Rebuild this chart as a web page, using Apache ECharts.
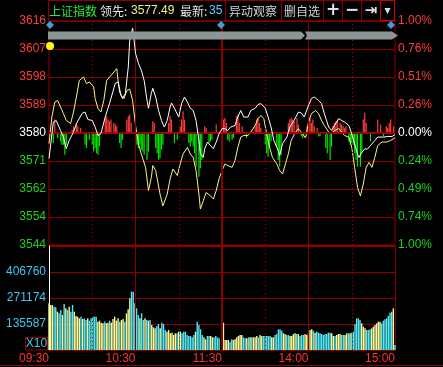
<!DOCTYPE html>
<html><head><meta charset="utf-8">
<script src="https://cdn.jsdelivr.net/npm/echarts@6/dist/echarts.min.js"></script>
<style>html,body{margin:0;padding:0;background:#000}#c{width:443px;height:367px}</style>
</head><body><div id="c"></div>
<script>
// ---------- data ----------
const prevClose = 3580.4;
const priceLabels = ['3616','3607','3598','3589','3580','3571','3562','3554','3544'];
const pctLabels = ['1.00%','0.76%','0.51%','0.26%','0.00%','0.24%','0.49%','0.74%','1.00%'];
const volStep = 135587;
const volLabels = ['', '135587', '271174', '406760', ''];
const timeLabels = {0:'09:30', 60:'10:30', 120:'11:30', 180:'14:00', 240:'15:00'};
const solidTimes = [60, 120, 180];
const dottedTimes = [30, 90, 150, 210];

const whiteT = [0,3,5,8,10,12,14,17,19,23,25,27,30,32,34,36,39,42,46,48,49,51,53,55,56,58,59,60,62,64,66,68,69,71,72,74,76,78,80,82,84,85,87,90,92,94,96,98,100,102,104,105,107,108,110,112,114,116,118,120,122,124,126,129,131,133,135,138,140,143,145,147,150,152,154,156,159,160,162,165,167,170,173,175,177,180,182,184,187,189,191,194,196,198,201,203,205,208,210,212,214,215,217,219,221,223,226,228,232,235,238,240];
const whiteP = [3572.2,3583.9,3584.4,3581.2,3579.1,3575.4,3578.0,3580.7,3583.4,3586.7,3587.1,3584.7,3584.4,3582.3,3579.6,3580.2,3585.5,3589.9,3596.3,3596.7,3593.5,3591.4,3593.1,3601.5,3610.1,3613.9,3610.1,3605.9,3602.7,3600.5,3597.2,3590.8,3588.3,3593.1,3594.7,3591.9,3587.6,3584.4,3582.3,3584.4,3588.7,3590.0,3588.3,3585.5,3589.9,3591.9,3590.3,3588.3,3587.6,3584.4,3578.0,3573.8,3572.6,3575.4,3577.5,3576.4,3575.4,3577.5,3580.2,3581.8,3581.8,3581.2,3582.3,3582.8,3585.5,3587.6,3585.5,3585.5,3587.6,3588.3,3589.5,3589.8,3588.3,3585.5,3582.3,3578.0,3574.8,3573.2,3577.0,3579.1,3582.3,3584.4,3587.1,3586.8,3585.5,3589.2,3591.4,3591.9,3590.8,3589.8,3586.6,3582.3,3581.2,3582.8,3585.0,3584.4,3583.9,3582.8,3580.1,3576.9,3573.7,3572.6,3574.2,3575.3,3575.3,3576.4,3578.0,3579.1,3579.1,3579.3,3579.3,3579.9];

const yellowT = [0,2,4,6,8,10,12,15,17,19,21,24,26,28,31,32,34,36,38,40,42,45,47,48,50,52,54,56,58,60,62,64,67,69,71,72,74,77,79,82,84,86,89,91,93,96,98,100,102,104,105,107,109,112,114,116,118,120,121,122,124,127,129,131,133,135,138,140,143,145,147,149,151,153,155,158,160,162,164,166,168,171,173,175,178,180,182,185,187,189,191,194,196,198,201,203,205,208,210,212,214,216,218,220,222,224,226,228,231,234,237,240];
const yellowP = [3577.0,3585.5,3590.3,3590.8,3588.7,3586.6,3584.4,3583.4,3587.1,3591.9,3597.2,3598.3,3596.2,3596.7,3595.1,3591.4,3588.2,3587.1,3590.8,3597.2,3598.3,3599.9,3601.0,3596.7,3592.4,3591.4,3594.0,3594.4,3590.8,3582.8,3577.0,3573.7,3569.4,3562.0,3566.2,3570.0,3568.4,3560.9,3557.1,3560.9,3565.7,3568.9,3566.8,3570.5,3573.7,3575.8,3573.7,3572.6,3568.4,3560.9,3556.1,3558.7,3561.4,3560.3,3559.3,3562.0,3565.8,3568.4,3569.4,3570.5,3570.0,3569.4,3571.6,3575.8,3579.1,3579.6,3579.6,3580.7,3582.8,3585.0,3586.0,3585.0,3580.1,3575.8,3572.6,3570.5,3568.4,3567.3,3570.5,3573.7,3578.0,3580.7,3581.8,3580.7,3578.8,3583.9,3586.6,3587.6,3586.6,3584.4,3582.8,3580.7,3580.1,3581.2,3581.8,3580.7,3579.6,3579.1,3575.8,3569.4,3563.0,3560.3,3564.1,3569.4,3571.0,3569.4,3572.6,3576.4,3577.5,3577.5,3578.0,3578.9];

// up/down breadth bars: [minute, size in % units]
const redBars = [[4,0.12],[16,0.03],[17,0.06],[19,0.09],[20,0.06],[22,0.045],[39,0.135],[40,0.15],[41,0.12],[42,0.105],[43,0.12],[45,0.09],[46,0.075],[47,0.06],[54,0.12],[55,0.15],[56,0.165],[57,0.09],[72,0.105],[73,0.09],[83,0.09],[84,0.15],[85,0.12],[91,0.06],[92,0.12],[93,0.195],[94,0.12],[108,0.06],[109,0.045],[116,0.075],[121,0.12],[122,0.135],[123,0.09],[130,0.15],[131,0.165],[132,0.09],[134,0.06],[143,0.06],[144,0.12],[145,0.135],[146,0.09],[147,0.045],[166,0.09],[167,0.12],[168,0.135],[169,0.12],[170,0.105],[172,0.135],[173,0.075],[179,0.06],[180,0.12],[181,0.135],[182,0.09],[183,0.12],[184,0.06],[186,0.045],[197,0.06],[198,0.09],[199,0.105],[200,0.12],[202,0.09],[203,0.075],[204,0.06],[205,0.045],[206,0.06],[218,0.12],[219,0.18],[220,0.09],[228,0.12],[230,0.075],[234,0.06],[235,0.045],[236,0.09],[237,0.12],[239,0.06]];
const greenBars = [[3,0.09],[6,0.045],[8,0.075],[9,0.105],[10,0.105],[11,0.195],[12,0.105],[25,0.105],[26,0.135],[28,0.06],[30,0.105],[31,0.165],[32,0.135],[33,0.18],[34,0.195],[35,0.12],[49,0.09],[50,0.135],[51,0.06],[61,0.105],[62,0.135],[63,0.105],[64,0.15],[65,0.165],[66,0.195],[68,0.24],[69,0.165],[74,0.135],[75,0.18],[76,0.24],[77,0.225],[78,0.15],[79,0.105],[87,0.09],[89,0.06],[97,0.09],[98,0.12],[99,0.075],[100,0.12],[101,0.18],[102,0.30],[104,0.39],[105,0.315],[106,0.24],[111,0.09],[112,0.075],[113,0.06],[124,0.06],[125,0.075],[127,0.06],[128,0.045],[137,0.045],[150,0.105],[151,0.18],[152,0.21],[153,0.135],[154,0.075],[158,0.12],[159,0.24],[160,0.30],[161,0.195],[175,0.03],[176,0.045],[187,0.03],[188,0.03],[192,0.135],[193,0.18],[195,0.24],[196,0.12],[208,0.075],[209,0.105],[210,0.09],[211,0.105],[212,0.18],[213,0.24],[214,0.30],[216,0.30],[217,0.18],[223,0.075],[232,0.03]];

// volume bars per session, in order; Y = up (yellow), C = down (cyan)
const amStart = 0, amEnd = 118, pmStart = 121, pmEnd = 240;
const amVol = [243300,234600,234600,225900,222500,199900,191200,208600,182500,239800,
217300,208600,225900,199900,234600,199900,177300,173800,165100,173800,
161600,165100,156400,165100,152900,165100,173800,173800,173800,147700,
152900,142500,139000,147700,139000,142500,152900,142500,161600,173800,
152900,165100,147700,156400,161600,147700,191200,212000,269400,304200,
304200,243300,217300,182500,165100,191200,156400,165100,156400,152900,
156400,130400,118200,113000,125100,135600,113000,142500,135600,104300,
95600,104300,86900,90400,78200,86900,86900,95600,95600,86900,
95600,95600,78200,73000,73000,66000,78200,95600,147700,130400,
107800,78200,66000,55600,73000,73000,73000,66000,66000,73000,
66000,60800];
const amDir = 'YYYCCYCCYC'+'YCYCCYYYYC'+'YCCYCCCCCY'+'YYYCYYCYYY'+'YYCYYCYYYC'+'CCCCYCCYCY'+'CYYYCCYCCC'+'YYYYYYCYYC'+'CCCCCCCYCC'+'CCYYCCYYCC'+'CC';
const pmVol = [142500,52100,52100,52100,43500,55600,52100,55600,66000,73000,
78200,78200,66000,60800,60800,66000,66000,66000,66000,66000,
73000,66000,78200,73000,73000,73000,73000,73000,73000,66000,
66000,78200,83400,107800,107800,100800,86900,83400,78200,78200,
73000,73000,83400,86900,83400,83400,73000,78200,78200,83400,
78200,86900,104300,107800,100800,90400,95600,90400,86900,83400,
78200,83400,83400,90400,90400,86900,73000,73000,78200,83400,
83400,78200,78200,78200,86900,86900,86900,90400,95600,135600,
165100,165100,156400,139000,121700,113000,104300,104300,107800,113000,
121700,130400,139000,147700,147700,139000,152900,159900,165100,177300,
194700,199900,217300,26100];
const pmDir = 'YYYYCCYYYY'+'YYCCYCYCYY'+'YCYYCCCCCY'+'YCCCCCYYCC'+'YYYYCYCCCY'+'YYYYCYCCCC'+'CCCCCYYCYY'+'YCCYYCYCCC'+'CCCYYYCCCY'+'YYYYYCCCCC'+'CCYC';

// ---------- build ----------
const pct = p => (p - prevClose) / prevClose * 100;
const RED = '#ff3c3c', GRN = '#1ed21e', GRID = '#8c0000';
const whiteData = whiteT.map((t, i) => [t, pct(whiteP[i])]);
const yellowData = yellowT.map((t, i) => [t, pct(yellowP[i])]);
const redData = redBars.map(([t, v]) => [t, v]);
const greenData = greenBars.map(([t, v]) => [t, -v]);
const YCOL = '#fafa96', CCOL = '#50e8f5';
function session(vols, dirs, s, e) {
  const n = vols.length;
  return vols.map((v, i) => ({value: [s + i * (e - s) / (n - 1), v],
    itemStyle: {color: dirs[i] === 'Y' ? YCOL : CCOL}}));
}
const volData = session(amVol, amDir, amStart, amEnd).concat(session(pmVol, pmDir, pmStart, pmEnd));

const vLines = solidTimes.map(t => ({xAxis: t, lineStyle: {color: GRID, width: t === 120 ? 2 : 1, type: 'solid'}}))
  .concat(dottedTimes.map(t => ({xAxis: t, lineStyle: {color: '#b00000', width: 1, type: [1, 3]}})));

const lblFont = {fontFamily: 'Liberation Sans, Arial', fontSize: 12};
const chart = echarts.init(document.getElementById('c'));
const hdrFont = '12px "Noto Sans CJK SC"';
const numFont = '12px "Liberation Sans"';
chart.setOption({
  backgroundColor: '#000',
  animation: false,
  grid: [
    {left: 49, top: 21, width: 346, height: 224, show: true, borderColor: GRID, borderWidth: 1},
    {left: 49, top: 246, width: 346, height: 104, show: false}
  ],
  xAxis: [
    {gridIndex: 0, type: 'value', min: 0, max: 240, interval: 30, axisLine: {show: false}, axisTick: {show: false}, axisLabel: {show: false}, splitLine: {show: false}},
    {gridIndex: 1, type: 'value', min: 0, max: 240, interval: 30,
      axisLine: {show: true, lineStyle: {color: GRID}}, axisTick: {show: false}, splitLine: {show: false},
      axisLabel: Object.assign({color: '#ff3232', align: 'right', margin: 3, showMinLabel: true, showMaxLabel: true,
        formatter: v => timeLabels[v] || ''}, lblFont)}
  ],
  yAxis: [
    {gridIndex: 0, type: 'value', min: -1, max: 1, interval: 0.25, position: 'left',
      axisLine: {show: false}, axisTick: {show: false}, splitLine: {show: true, lineStyle: {color: GRID}},
      axisLabel: {margin: 3, formatter: v => {
        const i = Math.round((1 - v) / 0.25); const k = i < 4 ? 'r' : (i === 4 ? 'w' : 'g');
        return '{' + k + '|' + priceLabels[i] + '}'; },
        rich: {r: Object.assign({color: RED}, lblFont), w: Object.assign({color: '#fff'}, lblFont), g: Object.assign({color: GRN}, lblFont)}}},
    {gridIndex: 0, type: 'value', min: -1, max: 1, interval: 0.25, position: 'right',
      axisLine: {show: false}, axisTick: {show: false}, splitLine: {show: false},
      axisLabel: {margin: 3, formatter: v => {
        const i = Math.round((1 - v) / 0.25); const k = i < 4 ? 'r' : (i === 4 ? 'w' : 'g');
        return '{' + k + '|' + pctLabels[i] + '}'; },
        rich: {r: Object.assign({color: RED}, lblFont), w: Object.assign({color: '#fff'}, lblFont), g: Object.assign({color: GRN}, lblFont)}}},
    {gridIndex: 1, type: 'value', min: 0, max: volStep * 4, interval: volStep, position: 'left',
      axisLine: {show: true, lineStyle: {color: '#fff'}}, axisTick: {show: false},
      splitLine: {show: true, lineStyle: {color: GRID}},
      axisLabel: Object.assign({color: '#3cc8f0', margin: 3, formatter: v => volLabels[Math.round(v / volStep)] || ''}, lblFont)},
    {gridIndex: 1, type: 'value', min: 0, max: volStep * 4, interval: volStep, position: 'right',
      axisLine: {show: true, lineStyle: {color: GRID}}, axisTick: {show: false}, splitLine: {show: false}, axisLabel: {show: false}}
  ],
  series: [
    {type: 'line', xAxisIndex: 0, yAxisIndex: 0, data: [], silent: true, z: 1,
      markLine: {silent: true, symbol: 'none', label: {show: false}, animation: false,
        data: vLines.concat([{yAxis: 0, lineStyle: {color: '#a00000', width: 2, type: 'solid'}}])}},
    {type: 'bar', xAxisIndex: 1, yAxisIndex: 2, data: volData, barWidth: 1.4, z: 2,
      markLine: {silent: true, symbol: 'none', label: {show: false}, animation: false, data: vLines}},
    {type: 'bar', xAxisIndex: 0, yAxisIndex: 0, data: redData, barWidth: 1.2, barGap: '-100%', itemStyle: {color: RED}, z: 3},
    {type: 'bar', xAxisIndex: 0, yAxisIndex: 0, data: greenData, barWidth: 1.2, barGap: '-100%', itemStyle: {color: '#00e600'}, z: 3},
    {type: 'line', xAxisIndex: 0, yAxisIndex: 0, data: yellowData, showSymbol: false, lineStyle: {color: '#f5f58c', width: 1}, z: 4},
    {type: 'line', xAxisIndex: 0, yAxisIndex: 0, data: whiteData, showSymbol: false, lineStyle: {color: '#ffffff', width: 1}, z: 5}
  ],
  graphic: [
    {type: 'line', shape: {x1: 48, y1: 0.5, x2: 395, y2: 0.5}, style: {stroke: GRID, lineWidth: 1}},
    {type: 'line', shape: {x1: 48.5, y1: 0, x2: 48.5, y2: 21}, style: {stroke: GRID, lineWidth: 1}},
    {type: 'line', shape: {x1: 225.5, y1: 0, x2: 225.5, y2: 21}, style: {stroke: GRID, lineWidth: 1}},
    {type: 'line', shape: {x1: 281.5, y1: 0, x2: 281.5, y2: 21}, style: {stroke: GRID, lineWidth: 1}},
    {type: 'line', shape: {x1: 323.5, y1: 0, x2: 323.5, y2: 21}, style: {stroke: GRID, lineWidth: 1}},
    {type: 'line', shape: {x1: 342.5, y1: 0, x2: 342.5, y2: 21}, style: {stroke: GRID, lineWidth: 1}},
    {type: 'line', shape: {x1: 361.5, y1: 0, x2: 361.5, y2: 21}, style: {stroke: GRID, lineWidth: 1}},
    {type: 'rect', shape: {x: 380.5, y: 0.5, width: 14, height: 20}, style: {fill: 'none', stroke: '#d00000', lineWidth: 1}},
    {type: 'text', x: 49, y: 11, style: {text: '上证指数', font: hdrFont, fill: '#2ee62e', verticalAlign: 'middle'}},
    {type: 'text', x: 100, y: 11, style: {text: '领先:', font: hdrFont, fill: '#e6e6e6', verticalAlign: 'middle'}},
    {type: 'text', x: 131, y: 11, style: {text: '3577.49', font: numFont, fill: '#f0f088', verticalAlign: 'middle'}},
    {type: 'text', x: 180, y: 11, style: {text: '最新:', font: hdrFont, fill: '#e6e6e6', verticalAlign: 'middle'}},
    {type: 'text', x: 209, y: 11, style: {text: '35', font: numFont, fill: '#5ad2ff', verticalAlign: 'middle'}},
    {type: 'text', x: 229, y: 11, style: {text: '异动观察', font: hdrFont, fill: '#d2d2d2', verticalAlign: 'middle'}},
    {type: 'text', x: 284, y: 11, style: {text: '删自选', font: hdrFont, fill: '#d2d2d2', verticalAlign: 'middle'}},
    {type: 'text', x: 333, y: 11, style: {text: '+', font: 'bold 17px "DejaVu Sans"', fill: '#e0e0e0', align: 'center', verticalAlign: 'middle'}},
    {type: 'text', x: 352, y: 11, style: {text: '−', font: 'bold 17px "DejaVu Sans"', fill: '#e0e0e0', align: 'center', verticalAlign: 'middle'}},
    {type: 'text', x: 371, y: 11, style: {text: '⇥', font: 'bold 15px "DejaVu Sans"', fill: '#e0e0e0', align: 'center', verticalAlign: 'middle'}},
    {type: 'text', x: 387.5, y: 11, style: {text: '▾', font: '12px "DejaVu Sans"', fill: '#e0e0e0', align: 'center', verticalAlign: 'middle'}},
    // gray band
    {type: 'polygon', shape: {points: [[48, 31.5], [301, 31.5], [305, 35.5], [301, 39.5], [48, 39.5]]}, style: {fill: '#8c9696'}, z: 10},
    {type: 'polygon', shape: {points: [[305, 31.5], [392, 31.5], [398, 35.5], [392, 39.5], [305, 39.5], [307, 35.5]]}, style: {fill: '#8c9696'}, z: 10},
    // diamonds
    {type: 'polygon', shape: {points: [[50, 21], [54, 25], [50, 29], [46, 25]]}, style: {fill: '#3c9fd6'}, z: 11},
    {type: 'polygon', shape: {points: [[221, 21], [225, 25], [221, 29], [217, 25]]}, style: {fill: '#3c9fd6'}, z: 11},
    {type: 'polygon', shape: {points: [[391, 21], [395, 25], [391, 29], [387, 25]]}, style: {fill: '#3c9fd6'}, z: 11},
    {type: 'circle', shape: {cx: 50, cy: 46, r: 4}, style: {fill: '#ffff00'}, z: 11},
    // X10 box
    {type: 'rect', shape: {x: 25.5, y: 337.5, width: 22, height: 12.5}, style: {fill: 'none', stroke: '#a00000', lineWidth: 1}},
    {type: 'text', x: 36.5, y: 344, style: {text: 'X10', font: numFont, fill: '#3cc8f0', align: 'center', verticalAlign: 'middle'}},
    {type: 'line', shape: {x1: 0, y1: 365.5, x2: 443, y2: 365.5}, style: {stroke: GRID, lineWidth: 1}}
  ]
});
</script></body></html>
